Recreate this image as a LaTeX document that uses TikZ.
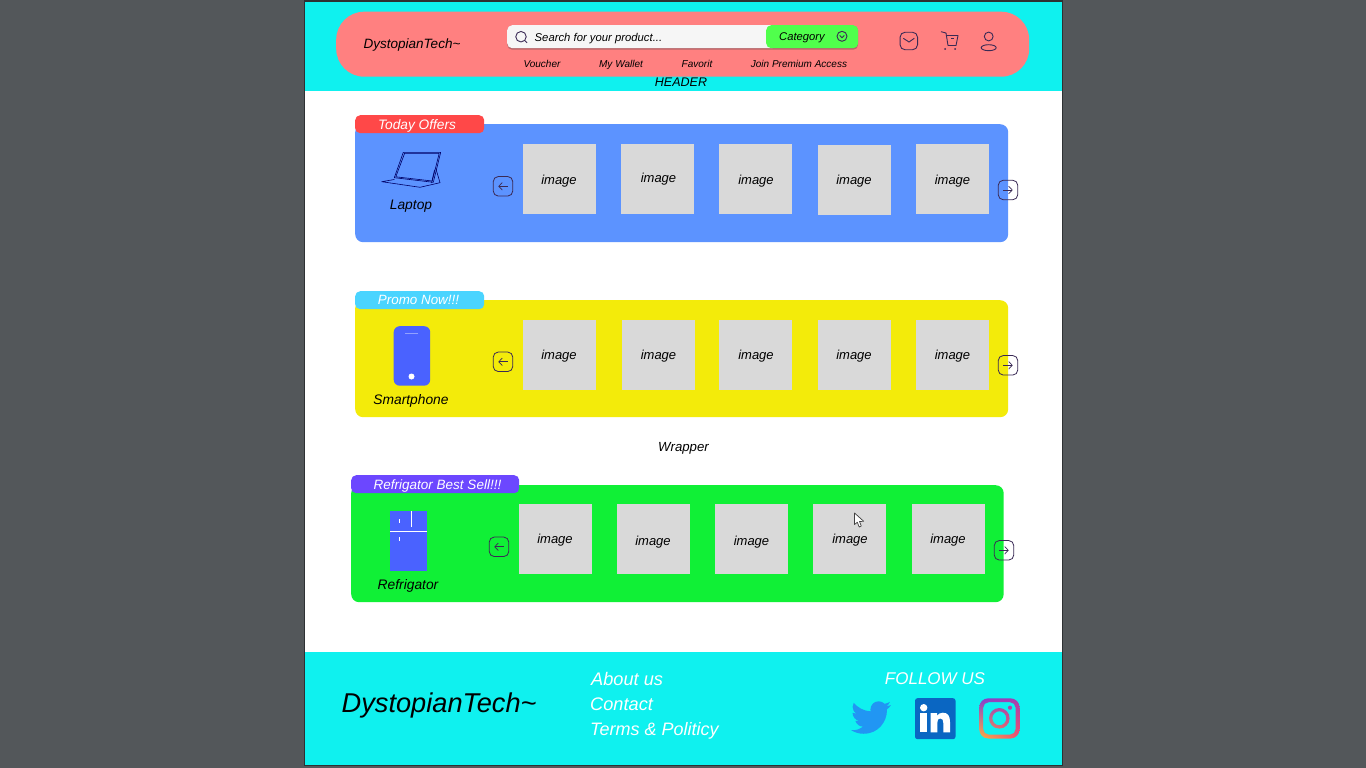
\documentclass[tikz,border=0pt]{standalone}
\usepackage{fontspec}
\setmainfont{Liberation Sans}
\usetikzlibrary{arrows.meta, positioning, shapes.geometric, shadings}

\definecolor{backdrop}{HTML}{53575A}
\definecolor{edgedark}{HTML}{2E3133}
\definecolor{cyanbar}{HTML}{0FF1EF}
\definecolor{pinkpill}{HTML}{FF8080}
\definecolor{searchwhite}{HTML}{F6F6F6}
\definecolor{searchshade}{HTML}{B8666A}
\definecolor{catgreen}{HTML}{50FF4C}
\definecolor{icondark}{HTML}{3A2A55}
\definecolor{panelblue}{HTML}{5C93FF}
\definecolor{panelyellow}{HTML}{F3EB0A}
\definecolor{panelgreen}{HTML}{10F036}
\definecolor{tagred}{HTML}{FF4848}
\definecolor{tagsky}{HTML}{4AD4FF}
\definecolor{tagviolet}{HTML}{6C47FF}
\definecolor{imagegray}{HTML}{D9D9D9}
\definecolor{deviceblue}{HTML}{4A62FF}
\definecolor{twitterblue}{HTML}{2196F3}
\definecolor{linkedblue}{HTML}{0A66C2}
\definecolor{instaorange}{HTML}{FFB040}
\definecolor{instaviolet}{HTML}{8040D0}
\definecolor{instapurple}{HTML}{A83CB0}
\definecolor{instared}{HTML}{F05070}

\tikzset{
    txt/.style={inner sep=0pt, yshift=-1.6pt, font=\itshape\fontsize{#1}{#1}\selectfont},
    panel/.style={rectangle, rounded corners=8pt, inner sep=0pt, anchor=north west, minimum width=653pt, minimum height=118pt},
    tagbox/.style={rectangle, rounded corners=5pt, inner sep=0pt, anchor=north west, minimum height=18pt},
    imagebox/.style={rectangle, fill=imagegray, inner sep=0pt, anchor=north west, minimum width=73pt, minimum height=70pt},
    imagetxt/.style={txt=13, text=black},
    btnbox/.style={rectangle, draw=icondark, line width=0.8pt, rounded corners=5pt, inner sep=0pt, minimum size=19.5pt},
    btnleft/.style={btnbox, path picture={\draw[icondark, line width=0.7pt, -{Straight Barb[length=3.5pt,width=7.5pt]}] ([xshift=4.7pt]path picture bounding box.center) -- ([xshift=-4.7pt]path picture bounding box.center);}},
    btnright/.style={btnbox, path picture={\draw[icondark, line width=0.7pt, -{Straight Barb[length=3.5pt,width=7.5pt]}] ([xshift=-4.7pt]path picture bounding box.center) -- ([xshift=4.7pt]path picture bounding box.center);}},
    iconline/.style={draw=icondark, line width=0.9pt},
    laptopline/.style={draw=black!60!blue, line width=0.6pt, line join=round}
}

\begin{document}
\begin{tikzpicture}[x=1pt, y=-1pt]
    \useasboundingbox (0,0) rectangle (1366,768);
    \fill[backdrop] (0,0) rectangle (1366,768);

    % page and bars
    \node (frame) [rectangle, fill=edgedark, inner sep=0pt, anchor=north west, minimum width=758.5pt, minimum height=766.2pt] at (304,0) {};
    \node (page) [rectangle, fill=white, inner sep=0pt, anchor=north west, minimum width=756.3pt, minimum height=763pt] at (305,2) {};
    \node (headerbar) [rectangle, fill=cyanbar, inner sep=0pt, anchor=north west, minimum width=756.3pt, minimum height=89pt] at (305,2) {};
    \node (footerbar) [rectangle, fill=cyanbar, inner sep=0pt, anchor=north west, minimum width=756.3pt, minimum height=113pt] at (305,652) {};

    % header
    \node (pill) [rectangle, fill=pinkpill, rounded corners=28pt, inner sep=0pt, anchor=north west, minimum width=693pt, minimum height=65pt] at (336,11.5) {};
    \node (brand) [txt=13.5, anchor=west] at (363.5,43.5) {DystopianTech\textasciitilde};
    \node (searchshadow) [rectangle, fill=searchshade, rounded corners=5pt, inner sep=0pt, anchor=north west, minimum width=351pt, minimum height=24pt] at (507,25.5) {};
    \node (searchbar) [rectangle, fill=searchwhite, rounded corners=5pt, inner sep=0pt, anchor=north west, minimum width=270pt, minimum height=23pt] at (507,25) {};
    \node (category) [rectangle, fill=catgreen, rounded corners=5pt, inner sep=0pt, anchor=north west, minimum width=92pt, minimum height=23pt] at (766,25) {};
    \node (searchtxt) [txt=11.3, anchor=west] at (534.5,37) {Search for your product...};
    \node (cattxt) [txt=11.2, anchor=west] at (779,36) {Category};
    \node (voucher) [txt=10] at (542,62.5) {Voucher};
    \node (wallet) [txt=10] at (621,63) {My Wallet};
    \node (favorit) [txt=10] at (697,62.5) {Favorit};
    \node (premium) [txt=10] at (799,62.5) {Join Premium Access};
    \node (headertxt) [txt=12.5] at (681,81) {HEADER};

    % header icons
    \node (lens) [circle, iconline, inner sep=0pt, minimum size=10.5pt] at (521,36.7) {};
    \draw[iconline] (lens.south east) -- +(2,2);
    \node (catcircle) [circle, iconline, inner sep=0pt, minimum size=10pt] at (842,36.3) {};
    \draw[iconline] (839.7,35.5) -- (842,37.7) -- (844.3,35.5);
    \node (mail) [rectangle, iconline, rounded corners=5pt, inner sep=0pt, minimum size=17.5pt] at (908.8,41) {};
    \draw[iconline] (903.3,38.3) -- (909,42) -- (914.3,38.3);
    \draw[iconline, line join=round] (941,31.7) -- (946,33) -- (948,45.5) -- (956,45.5) -- (958,35.5) -- (947,35.5);
    \fill[icondark] (950.5,37.8) rectangle (953.5,39);
    \node (wheelA) [circle, fill=icondark, inner sep=0pt, minimum size=2pt] at (945,49) {};
    \node (wheelB) [circle, fill=icondark, inner sep=0pt, minimum size=2pt] at (955,49) {};
    \node (userhead) [circle, iconline, inner sep=0pt, minimum size=8.8pt] at (988.7,36.5) {};
    \node (userbody) [ellipse, iconline, inner sep=0pt, minimum width=15pt, minimum height=6pt] at (988.7,47.7) {};

    % today offers
    \node (bluepanel) [panel, fill=panelblue] at (355,124) {};
    \node (redtag) [tagbox, fill=tagred, minimum width=129pt] at (355,115) {};
    \node (redtxt) [txt=13.7, text=white] at (417,124) {Today Offers};
    \draw[laptopline] (403.3,152.3) -- (440.7,152.3) -- (433.3,182.3) -- (394.3,177.7) -- cycle;
    \draw[laptopline] (404.6,153.4) -- (439.2,153.4) -- (432.2,181) -- (395.8,176.8) -- cycle;
    \draw[laptopline] (394.3,179.5) -- (381.7,181.7) -- (420,187.3) -- (440,182.7) -- (435.7,168);
    \draw[laptopline] (431.5,183) -- (434.5,170);
    \node (laptoptxt) [txt=13.8] at (411,204.5) {Laptop};
    \node (blueleft) [btnleft] at (503,186.3) {};
    \node (blueright) [btnright] at (1008,190) {};
    \node (blueA) [imagebox] at (523,144) {};
    \node (blueB) [imagebox] at (621,144) {};
    \node (blueC) [imagebox] at (719,144) {};
    \node (blueD) [imagebox] at (818,145) {};
    \node (blueE) [imagebox] at (916,144) {};
    \node (bluetxtA) [imagetxt] at (559,179.5) {image};
    \node (bluetxtB) [imagetxt] at (658.5,177.5) {image};
    \node (bluetxtC) [imagetxt] at (756,179.5) {image};
    \node (bluetxtD) [imagetxt] at (854,179.5) {image};
    \node (bluetxtE) [imagetxt] at (952.5,179.5) {image};

    % promo now
    \node (yellowpanel) [panel, fill=panelyellow, minimum height=117pt] at (355,300) {};
    \node (skytag) [tagbox, fill=tagsky, minimum width=129pt] at (355,291) {};
    \node (skytxt) [txt=13.4, text=white] at (418.5,298.5) {Promo Now!!!};
    \node (phone) [rectangle, fill=deviceblue, rounded corners=6pt, inner sep=0pt, anchor=north west, minimum width=36.5pt, minimum height=59.5pt] at (393.5,326) {};
    \node (phonedot) [circle, fill=white, inner sep=0pt, minimum size=6pt] at (411.5,376.5) {};
    \draw[white!40!deviceblue, line width=0.7pt] (405,333.5) -- (418,333.5);
    \node (phonetxt) [txt=13.8] at (411,399.5) {Smartphone};
    \node (yellowleft) [btnleft] at (503,361.8) {};
    \node (yellowright) [btnright] at (1008,365.3) {};
    \node (yellowA) [imagebox] at (523,320) {};
    \node (yellowB) [imagebox] at (621.5,320) {};
    \node (yellowC) [imagebox] at (719,320) {};
    \node (yellowD) [imagebox] at (818,320) {};
    \node (yellowE) [imagebox] at (916,320) {};
    \node (yellowtxtA) [imagetxt] at (559,354.5) {image};
    \node (yellowtxtB) [imagetxt] at (658.5,354.5) {image};
    \node (yellowtxtC) [imagetxt] at (756,354.5) {image};
    \node (yellowtxtD) [imagetxt] at (854,354.5) {image};
    \node (yellowtxtE) [imagetxt] at (952.5,354.5) {image};

    \node (wrappertxt) [txt=13.2] at (683.5,446.5) {Wrapper};

    % refrigator best sell
    \node (greenpanel) [panel, fill=panelgreen, minimum width=652.5pt, minimum height=117pt] at (351,485) {};
    \node (violettag) [tagbox, fill=tagviolet, minimum width=168pt] at (351,475) {};
    \node (violettxt) [txt=13.5, text=white] at (437.5,484.5) {Refrigator Best Sell!!!};
    \node (fridge) [rectangle, fill=deviceblue, inner sep=0pt, anchor=north west, minimum width=36.5pt, minimum height=60pt] at (390,511) {};
    \draw[white, line width=0.8pt] (390,531.3) -- (426.5,531.3);
    \draw[white, line width=0.8pt] (411.5,511) -- (411.5,527);
    \draw[white, line width=0.8pt] (399.5,519) -- (399.5,523);
    \draw[white, line width=0.8pt] (399.5,537) -- (399.5,541);
    \node (fridgetxt) [txt=13.8] at (408,584.5) {Refrigator};
    \node (greenleft) [btnleft] at (499,546.8) {};
    \node (greenright) [btnright] at (1004,550.3) {};
    \node (greenA) [imagebox] at (519,504) {};
    \node (greenB) [imagebox] at (617,504) {};
    \node (greenC) [imagebox] at (715,504) {};
    \node (greenD) [imagebox] at (813,504) {};
    \node (greenE) [imagebox] at (912,504) {};
    \node (greentxtA) [imagetxt] at (555,539) {image};
    \node (greentxtB) [imagetxt] at (653,540.5) {image};
    \node (greentxtC) [imagetxt] at (751.5,540.5) {image};
    \node (greentxtD) [imagetxt] at (850,539) {image};
    \node (greentxtE) [imagetxt] at (948,539) {image};
    % pointer
    \draw[fill=white, draw=black!75, line width=0.7pt, line join=round] (854.5,513) -- (854.5,524.5) -- (857.3,522.3) -- (859.2,527) -- (861.3,526) -- (859.5,521.5) -- (863.7,521.3) -- cycle;

    % footer
    \node (footbrand) [txt=27.2, anchor=west] at (341.5,704) {DystopianTech\textasciitilde};
    \node (abouttxt) [txt=18.2, text=white, anchor=west] at (591,677.5) {About us};
    \node (contacttxt) [txt=18.2, text=white, anchor=west] at (590,703) {Contact};
    \node (termstxt) [txt=18, text=white, anchor=west] at (590,729) {Terms \& Politicy};
    \node (followtxt) [txt=17, text=white] at (935,677) {FOLLOW US};

    % twitter
    \begin{scope}[shift={(851,697.5)}, x=1.667pt, y=-1.667pt]
        \fill[twitterblue] (23.953,4.57) .. controls (23.05,4.95) and (22.1,5.2) .. (21.128,5.345)
            .. controls (22.15,4.75) and (22.93,3.78) .. (23.291,2.622)
            .. controls (22.34,3.177) and (21.286,3.581) .. (20.164,3.806)
            .. controls (19.2,2.85) and (17.95,2.26) .. (16.57,2.26)
            .. controls (13.85,2.26) and (11.65,4.46) .. (11.65,7.18)
            .. controls (11.65,7.56) and (11.69,7.93) .. (11.78,8.288)
            .. controls (7.69,8.095) and (4.067,6.13) .. (1.64,3.162)
            .. controls (1.22,3.87) and (0.974,4.72) .. (0.974,5.637)
            .. controls (0.974,7.347) and (1.844,8.85) .. (3.162,9.733)
            .. controls (2.35,9.71) and (1.6,9.49) .. (0.934,9.117)
            -- (0.934,9.177)
            .. controls (0.934,11.55) and (2.63,13.55) .. (4.88,14.004)
            .. controls (4.16,14.15) and (3.4,14.23) .. (2.668,14.089)
            .. controls (3.3,16.04) and (5.1,17.46) .. (7.272,17.506)
            .. controls (5.6,18.82) and (3.5,19.611) .. (1.17,19.611)
            .. controls (0.78,19.611) and (0.391,19.588) .. (0,19.544)
            .. controls (2.18,20.94) and (4.77,21.753) .. (7.557,21.753)
            .. controls (16.61,21.753) and (21.555,14.257) .. (21.555,7.768)
            .. controls (21.555,7.558) and (21.555,7.348) .. (21.54,7.138)
            .. controls (22.5,6.45) and (23.33,5.58) .. (23.953,4.57) -- cycle;
    \end{scope}

    % linkedin
    \node (linkedin) [rectangle, fill=linkedblue, rounded corners=2.5pt, inner sep=0pt, anchor=north west, minimum width=40.5pt, minimum height=41pt] at (914.8,698) {};
    \fill[white] (920,713) rectangle (927.2,732.3);
    \fill[white] (923.7,707.7) circle (3.7);
    \fill[white] (930.7,713) -- (937,713) -- (937,715.7) .. controls (938.2,714) and (940.2,712.7) .. (942.8,712.7) .. controls (948,712.7) and (950,716) .. (950,722) -- (950,732.3) -- (943.3,732.3) -- (943.3,723) .. controls (943.3,720.2) and (942.5,718.4) .. (940.3,718.4) .. controls (938,718.4) and (937.3,720.2) .. (937.3,723) -- (937.3,732.3) -- (930.7,732.3) -- cycle;

    % instagram
    \shade[even odd rule, shading=bilinear interpolation, lower left=instaorange, upper right=instapurple, upper left=instaviolet, lower right=instared]
        [rounded corners=9pt] (979.3,698.3) rectangle (1019.5,738.5)
        [rounded corners=5.5pt] (983.2,702.2) rectangle (1015.6,734.6)
        [sharp corners] (999.3,718.3) circle (10.3) (999.3,718.3) circle (7)
        (1010,707.7) circle (2.1);
\end{tikzpicture}
\end{document}
